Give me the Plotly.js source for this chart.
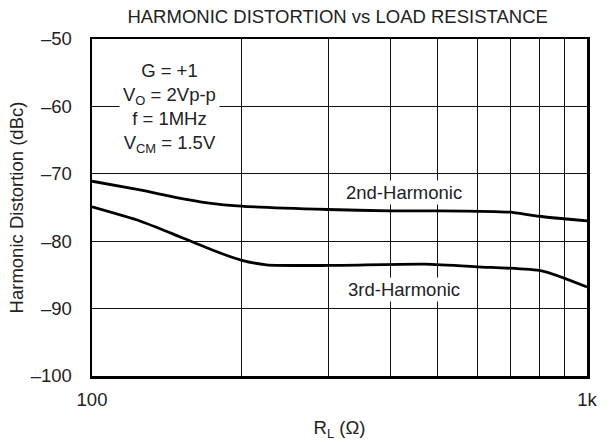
<!DOCTYPE html>
<html><head><meta charset="utf-8">
<script src="https://cdn.plot.ly/plotly-3.0.1.min.js"></script>
<style>html,body{margin:0;padding:0;background:#fff}#chart{width:615px;height:442px}</style>
</head><body><div id="chart"></div>
<script>
const rl2 = [100, 125, 150, 171, 200, 300, 400, 500, 650, 700, 800, 1000];
const h2  = [-71.1, -72.4, -73.6, -74.3, -74.8, -75.3, -75.5, -75.5, -75.6, -75.7, -76.3, -77.0];
const rl3 = [100, 125, 150, 175, 200, 225, 300, 470, 600, 810, 1000];
const h3  = [-74.9, -77.0, -79.3, -81.3, -82.8, -83.5, -83.6, -83.4, -83.8, -84.4, -86.8];
const xTickVals = [100, 200, 300, 400, 500, 600, 700, 800, 900, 1000];
const xTickText = ['100', '', '', '', '', '', '', '', '', '1k'];
const yTickVals = [-100, -90, -80, -70, -60, -50];
const yTickText = ['\u2013100', '\u201390', '\u201380', '\u201370', '\u201360', '\u201350'];
const curveLabels = ['2nd-Harmonic', '3rd-Harmonic'];
const condLines = ['G = +1', 'V<sub>O</sub> = 2Vp-p', 'f = 1MHz', 'V<sub>CM</sub> = 1.5V'];

const FS = 18.5;
const font = {family: 'Liberation Sans, Arial, sans-serif', size: FS, color: '#222'};
const traces = [
  {x: rl2, y: h2, mode: 'lines', line: {color: '#000', width: 2.8, shape: 'spline', smoothing: 0.6}, hoverinfo: 'skip'},
  {x: rl3, y: h3, mode: 'lines', line: {color: '#000', width: 2.8, shape: 'spline', smoothing: 0.6}, hoverinfo: 'skip'}
];
const layout = {
  width: 615, height: 442,
  margin: {l: 92, r: 28, t: 39, b: 66},
  paper_bgcolor: '#fff', plot_bgcolor: '#fff',
  showlegend: false,
  font: font,
  title: {text: 'HARMONIC DISTORTION vs LOAD RESISTANCE', font: font, x: 0.549, xanchor: 'center', y: 0.962, yanchor: 'middle'},
  xaxis: {type: 'log', range: [2, 3], tickvals: xTickVals, ticktext: xTickText, ticks: '',
    showgrid: true, gridcolor: '#111', gridwidth: 1, zeroline: false,
    showline: true, linecolor: '#000', linewidth: 2.5, mirror: true,
    tickfont: font, ticklabelstandoff: 5,
    title: {text: 'R<sub>L</sub> (\u03A9)', font: font, standoff: 13}},
  yaxis: {range: [-100, -50], tickvals: yTickVals, ticktext: yTickText, ticks: '',
    showgrid: true, gridcolor: '#111', gridwidth: 1, zeroline: false,
    showline: true, linecolor: '#000', linewidth: 2.5, mirror: true,
    tickfont: font, ticklabelstandoff: 14,
    title: {text: 'Harmonic Distortion (dBc)', font: font, standoff: 2}},
  annotations: [
    {xref: 'x', yref: 'y', x: Math.log10(427), y: -72.7, text: curveLabels[0], showarrow: false, font: font, bgcolor: '#fff', borderpad: 1},
    {xref: 'x', yref: 'y', x: Math.log10(427), y: -87.1, text: curveLabels[1], showarrow: false, font: font, bgcolor: '#fff', borderpad: 1},
    {xref: 'paper', yref: 'paper', x: 0.156, y: 0.794, xanchor: 'center', yanchor: 'middle',
     text: condLines.join('<br>'), showarrow: false, font: font, bgcolor: '#fff', borderpad: 3, align: 'center'}
  ]
};
Plotly.newPlot('chart', traces, layout, {staticPlot: true, displayModeBar: false});
</script></body></html>
